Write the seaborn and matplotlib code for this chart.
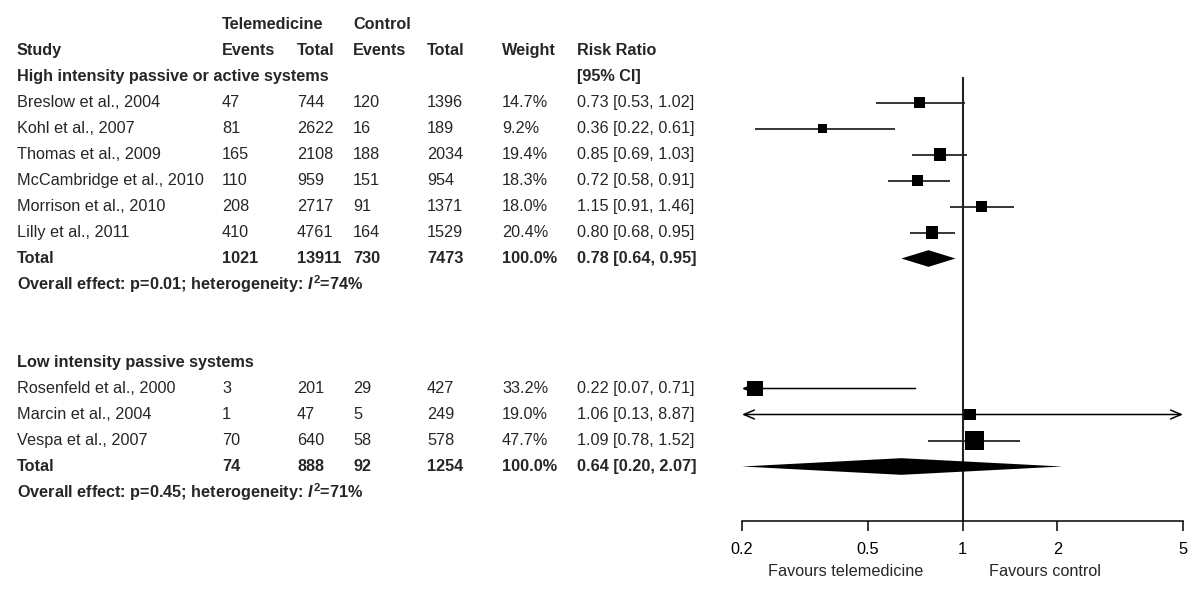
import matplotlib
matplotlib.use("Agg")
import matplotlib.pyplot as plt
import pandas as pd
import seaborn as sns

# --- data: high intensity passive or active systems ---
high_studies = ["Breslow et al., 2004", "Kohl et al., 2007", "Thomas et al., 2009",
                "McCambridge et al., 2010", "Morrison et al., 2010", "Lilly et al., 2011"]
high_tele_events = [47, 81, 165, 110, 208, 410]
high_tele_total = [744, 2622, 2108, 959, 2717, 4761]
high_ctrl_events = [120, 16, 188, 151, 91, 164]
high_ctrl_total = [1396, 189, 2034, 954, 1371, 1529]
high_weight = [14.7, 9.2, 19.4, 18.3, 18.0, 20.4]
high_rr = [0.73, 0.36, 0.85, 0.72, 1.15, 0.80]
high_lo = [0.53, 0.22, 0.69, 0.58, 0.91, 0.68]
high_hi = [1.02, 0.61, 1.03, 0.91, 1.46, 0.95]
high_sums = [1021, 13911, 730, 7473]
high_pooled = [0.78, 0.64, 0.95]
high_p, high_i2 = "0.01", "74"

# --- data: low intensity passive systems ---
low_studies = ["Rosenfeld et al., 2000", "Marcin et al., 2004", "Vespa et al., 2007"]
low_tele_events = [3, 1, 70]
low_tele_total = [201, 47, 640]
low_ctrl_events = [29, 5, 58]
low_ctrl_total = [427, 249, 578]
low_weight = [33.2, 19.0, 47.7]
low_rr = [0.22, 1.06, 1.09]
low_lo = [0.07, 0.13, 0.78]
low_hi = [0.71, 8.87, 1.52]
low_sums = [74, 888, 92, 1254]
low_pooled = [0.64, 0.20, 2.07]
low_p, low_i2 = "0.45", "71"

x_ticks = [0.2, 0.5, 1, 2, 5]
x_tick_labels = ["0.2", "0.5", "1", "2", "5"]

groups = [
    dict(title="High intensity passive or active systems", start=2, studies=high_studies,
         te=high_tele_events, tt=high_tele_total, ce=high_ctrl_events, ct=high_ctrl_total,
         w=high_weight, rr=high_rr, lo=high_lo, hi=high_hi, sums=high_sums,
         pooled=high_pooled, p=high_p, i2=high_i2),
    dict(title="Low intensity passive systems", start=13, studies=low_studies,
         te=low_tele_events, tt=low_tele_total, ce=low_ctrl_events, ct=low_ctrl_total,
         w=low_weight, rr=low_rr, lo=low_lo, hi=low_hi, sums=low_sums,
         pooled=low_pooled, p=low_p, i2=low_i2),
]

sns.set_style("white")
plt.rcParams["font.family"] = ["Liberation Sans", "DejaVu Sans"]
plt.rcParams["mathtext.fontset"] = "custom"
plt.rcParams["mathtext.it"] = "Liberation Sans:italic:bold"
plt.rcParams["mathtext.rm"] = "Liberation Sans:bold"
FS = 11.7

W, H = 1200, 591


def row_of(py):
    # pixel row -> table row units
    return (py - 24.5) / 26.0


fig = plt.figure(figsize=(W / 100, H / 100), dpi=100)

# text table
tax = fig.add_axes([0, 0, 1, 1])
tax.set_xlim(0, W)
tax.set_ylim(row_of(H), row_of(0))
tax.axis("off")

cols = [17, 222, 297, 353, 427, 502, 577]


def put(x, r, s, bold=False):
    tax.text(x, r, s, fontsize=FS, ha="left", va="center",
             fontweight="bold" if bold else "normal")


put(cols[1], 0, "Telemedicine", True)
put(cols[3], 0, "Control", True)
for x, s in zip(cols, ["Study", "Events", "Total", "Events", "Total", "Weight", "Risk Ratio"]):
    put(x, 1, s, True)
put(cols[6], 2, "[95% CI]", True)

rows = []
for g in groups:
    r0 = g["start"]
    put(cols[0], r0, g["title"], True)
    for i, name in enumerate(g["studies"]):
        r = r0 + 1 + i
        vals = [name, g["te"][i], g["tt"][i], g["ce"][i], g["ct"][i], f"{g['w'][i]:.1f}%",
                f"{g['rr'][i]:.2f} [{g['lo'][i]:.2f}, {g['hi'][i]:.2f}]"]
        for x, v in zip(cols, vals):
            put(x, r, str(v))
        rows.append(dict(row=r, rr=g["rr"][i], lo=g["lo"][i], hi=g["hi"][i], weight=g["w"][i]))
    rt = r0 + 1 + len(g["studies"])
    pr, pl, ph = g["pooled"]
    vals = ["Total"] + g["sums"] + ["100.0%", f"{pr:.2f} [{pl:.2f}, {ph:.2f}]"]
    for x, v in zip(cols, vals):
        put(x, rt, str(v), True)
    put(cols[0], rt + 1,
        f"Overall effect: p={g['p']}; heterogeneity: $\\mathit{{I}}^{{2}}$={g['i2']}%", True)

df = pd.DataFrame(rows)

# forest panel
ax_left, ax_right, ax_bottom = 742, 1183, 521
fax = fig.add_axes([ax_left / W, (H - ax_bottom) / H, (ax_right - ax_left) / W, ax_bottom / H])
fax.set_xscale("log")
fax.set_xlim(x_ticks[0], x_ticks[-1])
fax.set_ylim(row_of(ax_bottom), row_of(0))
fax.patch.set_alpha(0)

lw = 1.1
xmin, xmax = x_ticks[0], x_ticks[-1]
for _, d in df.iterrows():
    lo_c, hi_c = max(d.lo, xmin), min(d.hi, xmax)
    if d.lo < xmin or d.hi > xmax:
        # path runs lo -> hi; "<" marks the clipped lower end, ">" the upper one
        style = ("<" if d.lo < xmin else "") + "-" + (">" if d.hi > xmax else "")
        fax.annotate("", xy=(hi_c, d.row), xytext=(lo_c, d.row),
                     arrowprops=dict(arrowstyle=f"{style},head_length=0.75,head_width=0.32",
                                     lw=lw, color="black", shrinkA=0, shrinkB=0,
                                     mutation_scale=10),
                     annotation_clip=False)
    else:
        fax.hlines(d.row, lo_c, hi_c, color="black", lw=lw)

sns.scatterplot(data=df, x="rr", y="row", size="weight", sizes=(0, 196), size_norm=(0, 50),
                marker="s", color="black", linewidth=0, legend=False, ax=fax, zorder=3)

for g in groups:
    rt = g["start"] + 1 + len(g["studies"])
    pr, pl, ph = g["pooled"]
    h = 0.32
    fax.fill([pl, pr, ph, pr], [rt, rt - h, rt, rt + h], color="black", lw=0, zorder=3)

fax.vlines(1, 2.0, row_of(ax_bottom), color="#222222", lw=1.5, zorder=2, clip_on=False)

for s in ["top", "left", "right"]:
    fax.spines[s].set_visible(False)
fax.spines["bottom"].set_linewidth(lw)
fax.spines["bottom"].set_color("black")
fax.set_xticks(x_ticks)
fax.set_xticklabels(x_tick_labels)
fax.minorticks_off()
fax.set_yticks([])
fax.tick_params(axis="x", bottom=True, direction="out", length=7, width=lw, pad=8,
                labelsize=FS, colors="black")
fax.set_xlabel("")
fax.set_ylabel("")

tax.text(846, row_of(572), "Favours telemedicine", fontsize=FS, ha="center", va="center")
tax.text(1045, row_of(572), "Favours control", fontsize=FS, ha="center", va="center")

fig.savefig("out.png", dpi=100)
